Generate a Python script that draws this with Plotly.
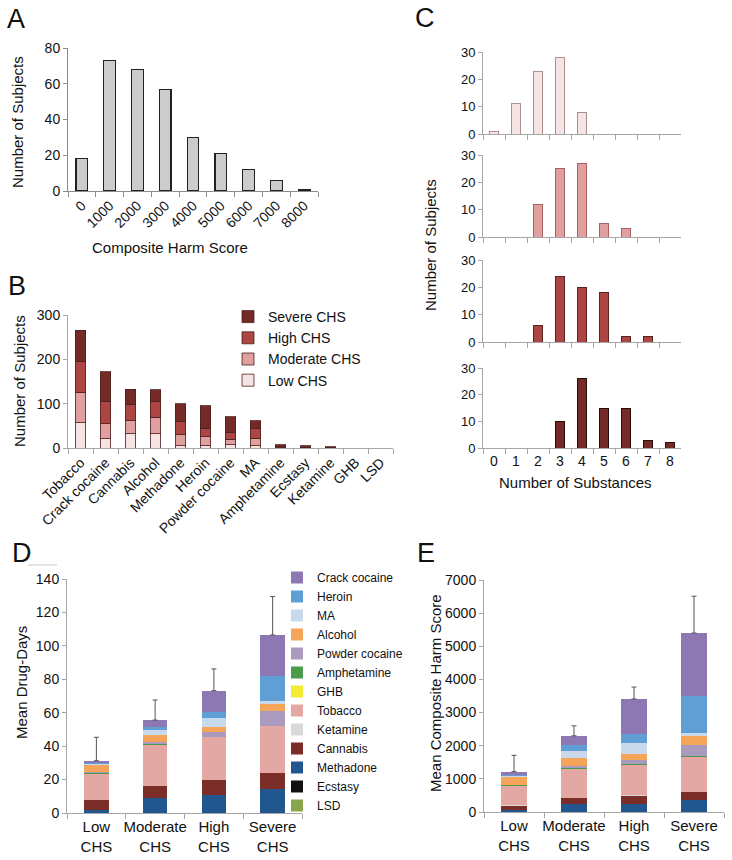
import plotly.graph_objects as go

W, H = 732, 860
def px(x): return x / W
def py(y): return 1 - y / H

# ---------------- Panel A ----------------
A_bins = ["0", "1000", "2000", "3000", "4000", "5000", "6000", "7000", "8000"]
A_counts = [18, 73, 68, 57, 30, 21, 12, 6, 1]

# ---------------- Panel B ----------------
B_drugs = ["Tobacco", "Crack cocaine", "Cannabis", "Alcohol", "Methadone", "Heroin",
           "Powder cocaine", "MA", "Amphetamine", "Ecstasy", "Ketamine", "GHB", "LSD"]
B_low = [57, 21, 32, 32, 5, 5, 7, 5, 0, 0, 0, 0, 0]
B_moderate = [69, 34, 29, 37, 25, 20, 13, 17, 1, 1, 0, 0, 0]
B_high = [68, 51, 38, 35, 30, 20, 16, 23, 2, 1, 1, 0, 0]
B_severe = [72, 66, 34, 27, 40, 50, 35, 17, 4, 3, 2, 0, 0]

# ---------------- Panel C ----------------
C_substances = ["0", "1", "2", "3", "4", "5", "6", "7", "8"]
C_low = [1, 11, 23, 28, 8, 0, 0, 0, 0]
C_moderate = [0, 0, 12, 25, 27, 5, 3, 0, 0]
C_high = [0, 0, 6, 24, 20, 18, 2, 2, 0]
C_severe = [0, 0, 0, 10, 26, 15, 15, 3, 2]

# ---------------- Panels D & E ----------------
groups = ["Low<br>CHS", "Moderate<br>CHS", "High<br>CHS", "Severe<br>CHS"]
# stack order bottom -> top
drugs = ["LSD", "Ecstasy", "Methadone", "Cannabis", "Ketamine", "Tobacco", "GHB",
         "Amphetamine", "Powder cocaine", "Alcohol", "MA", "Heroin", "Crack cocaine"]
drug_colors = ["#8aa64a", "#111111", "#22568f", "#7b2d28", "#d9d9d9", "#e3a7a4", "#f2ea34",
               "#4b9b4b", "#a99bbd", "#f4a55a", "#c8d9ec", "#609ed6", "#8e78b4"]

D_lsd = [0, 0, 0, 0]
D_ecstasy = [0, 0, 0, 0]
D_methadone = [1.8, 9.2, 10.8, 14.6]
D_cannabis = [5.8, 6.8, 8.9, 9.1]
D_ketamine = [0.2, 0.3, 0.3, 0.3]
D_tobacco = [15.5, 24.6, 25.3, 27.9]
D_ghb = [0, 0, 0, 0]
D_amphetamine = [0.5, 0.5, 0.4, 0.4]
D_powder = [1.0, 1.2, 2.6, 8.9]
D_alcohol = [3.8, 4.0, 3.0, 4.0]
D_ma = [1.0, 3.0, 5.4, 2.0]
D_heroin = [0.5, 2.0, 3.5, 15.0]
D_crack = [1.2, 4.0, 13.0, 24.3]
D_err = [14, 12, 13, 23]

E_lsd = [0, 0, 0, 0]
E_ecstasy = [0, 0, 0, 0]
E_methadone = [70, 250, 250, 370]
E_cannabis = [120, 160, 240, 220]
E_ketamine = [10, 20, 20, 20]
E_tobacco = [590, 870, 920, 1040]
E_ghb = [0, 0, 0, 0]
E_amphetamine = [30, 30, 30, 30]
E_powder = [0, 60, 110, 350]
E_alcohol = [240, 240, 190, 250]
E_ma = [40, 200, 320, 100]
E_heroin = [20, 180, 280, 1110]
E_crack = [100, 290, 1050, 1910]
E_err = [490, 300, 360, 1110]

D_series = [D_lsd, D_ecstasy, D_methadone, D_cannabis, D_ketamine, D_tobacco, D_ghb,
            D_amphetamine, D_powder, D_alcohol, D_ma, D_heroin, D_crack]
E_series = [E_lsd, E_ecstasy, E_methadone, E_cannabis, E_ketamine, E_tobacco, E_ghb,
            E_amphetamine, E_powder, E_alcohol, E_ma, E_heroin, E_crack]

CHS_names = ["Low CHS", "Moderate CHS", "High CHS", "Severe CHS"]
CHS_fill = ["#f6e3e3", "#e0a09f", "#ad4542", "#742b27"]
CHS_line_C = ["#a89090", "#a86060", "#5a2220", "#2a0c0a"]

FONT = "Arial, Liberation Sans, Helvetica, sans-serif"


def nz(vals):
    # zero-height bars are not drawn (avoid outline slivers)
    return [v if v else None for v in vals]


fig = go.Figure()

# A
fig.add_trace(go.Bar(x=A_bins, y=A_counts, marker=dict(color="#cccccc", line=dict(color="#222222", width=1.2)),
                     showlegend=False, xaxis="x", yaxis="y"))

# B
for name, vals, col in zip(CHS_names, [B_low, B_moderate, B_high, B_severe], CHS_fill):
    fig.add_trace(go.Bar(x=B_drugs, y=nz(vals), name=name,
                         marker=dict(color=col, line=dict(color="#4a2020", width=0.8)),
                         xaxis="x2", yaxis="y2", legend="legend2"))

# C
for i, (vals, col, lc) in enumerate(zip([C_low, C_moderate, C_high, C_severe], CHS_fill, CHS_line_C)):
    fig.add_trace(go.Bar(x=C_substances, y=nz(vals), marker=dict(color=col, line=dict(color=lc, width=1)),
                         showlegend=False, xaxis="x%d" % (3 + i), yaxis="y%d" % (3 + i)))

# D
for name, vals, col in zip(drugs, D_series, drug_colors):
    fig.add_trace(go.Bar(x=groups, y=vals, name=name, marker=dict(color=col, line=dict(width=0)),
                         xaxis="x7", yaxis="y7", legend="legend"))
D_tot = [sum(s[i] for s in D_series) for i in range(4)]
fig.add_trace(go.Scatter(x=groups, y=D_tot, mode="markers", marker=dict(size=1, color="rgba(0,0,0,0)"),
                         error_y=dict(type="data", symmetric=False, array=D_err, arrayminus=[0] * 4,
                                      color="#555555", thickness=1, width=2.5),
                         showlegend=False, hoverinfo="skip", xaxis="x7", yaxis="y7"))

# E
for name, vals, col in zip(drugs, E_series, drug_colors):
    fig.add_trace(go.Bar(x=groups, y=vals, name=name, marker=dict(color=col, line=dict(width=0)),
                         showlegend=False, xaxis="x8", yaxis="y8"))
E_tot = [sum(s[i] for s in E_series) for i in range(4)]
fig.add_trace(go.Scatter(x=groups, y=E_tot, mode="markers", marker=dict(size=1, color="rgba(0,0,0,0)"),
                         error_y=dict(type="data", symmetric=False, array=E_err, arrayminus=[0] * 4,
                                      color="#555555", thickness=1, width=2.5),
                         showlegend=False, hoverinfo="skip", xaxis="x8", yaxis="y8"))

AX = dict(showline=True, linecolor="#a6a6a6", linewidth=1, ticks="outside", tickcolor="#a6a6a6",
          ticklen=4, showgrid=False, zeroline=False, tickfont=dict(size=14, color="#111"),
          fixedrange=True, automargin=False)

def xcat(domain, anchor, **kw):
    d = dict(AX); d.update(domain=domain, anchor=anchor, type="category", tickson="boundaries", ticklen=5)
    d.update(kw); return d

def yax(domain, anchor, rng, dtick, **kw):
    d = dict(AX); d.update(domain=domain, anchor=anchor, range=rng, dtick=dtick)
    d.update(kw); return d

layout = dict(
    template="none",
    width=W, height=H, margin=dict(l=0, r=0, t=0, b=0, pad=0, autoexpand=False),
    paper_bgcolor="white", plot_bgcolor="white",
    font=dict(family=FONT, color="#111", size=14),
    barmode="stack", bargap=0.58,
    xaxis=xcat([px(68), px(318)], "y", tickangle=-45, linecolor="#8c8c8c", tickcolor="#8c8c8c"),
    yaxis=yax([py(191), py(48)], "x", [0, 80], 20, linecolor="#8c8c8c", tickcolor="#8c8c8c"),
    xaxis2=xcat([px(68), px(393)], "y2", tickangle=-45),
    yaxis2=yax([py(448), py(315)], "x2", [0, 300], 100),
    xaxis7=xcat([px(67), px(302)], "y7", tickangle=0, tickfont=dict(size=15, color="#111")),
    yaxis7=yax([py(813), py(579)], "x7", [0, 140], 20),
    xaxis8=xcat([px(484), px(724)], "y8", tickangle=0, tickfont=dict(size=15, color="#111")),
    yaxis8=yax([py(812), py(580)], "x8", [0, 7000], 1000),
    legend=dict(x=px(277), y=py(563), xanchor="left", yanchor="top", traceorder="reversed",
                font=dict(size=12), bgcolor="rgba(0,0,0,0)", tracegroupgap=0),
    legend2=dict(x=px(228), y=py(301), xanchor="left", yanchor="top", traceorder="reversed",
                 font=dict(size=14), bgcolor="rgba(0,0,0,0)", tracegroupgap=0),
)
C_rows = [(52, 134), (155, 237), (260, 342), (368, 448)]
for i, (top, bot) in enumerate(C_rows):
    n = 3 + i
    layout["xaxis%d" % n] = xcat([px(483), px(681)], "y%d" % n, showticklabels=(i == 3), tickangle=0,
                                 tickfont=dict(size=14, color="#111"))
    layout["yaxis%d" % n] = yax([py(bot), py(top)], "x%d" % n, [0, 30], 10, tickfont=dict(size=13, color="#111"))
fig.update_layout(**layout)

def ann(text, x, y, size=15, angle=0):
    fig.add_annotation(text=text, x=px(x), y=py(y), xref="paper", yref="paper", showarrow=False,
                       font=dict(size=size, family=FONT, color="#111"), textangle=angle,
                       xanchor="center", yanchor="middle")

for letter, x, y in [("A", 16, 19), ("B", 17, 286), ("C", 425, 18), ("D", 22, 553), ("E", 426, 553)]:
    ann(letter, x, y, size=27)

ann("Number of Subjects", 18, 122, angle=-90)
ann("Composite Harm Score", 170, 247)
ann("Number of Subjects", 19, 381, angle=-90)
ann("Number of Subjects", 430, 245, angle=-90)
ann("Number of Substances", 575, 483)
ann("Mean Drug-Days", 21, 683, angle=-90)
ann("Mean Composite Harm Score", 435, 693, angle=-90)

fig.add_shape(type="line", xref="paper", yref="paper", x0=px(28), x1=px(57), y0=py(565), y1=py(565),
              line=dict(color="#cccccc", width=1))

# remove the browser's default 8px page margin so the 732x860 figure fills the window exactly
fig.write_html("out.html", config={"displayModeBar": False, "staticPlot": True},
               post_script="document.body.style.margin='0px';")
